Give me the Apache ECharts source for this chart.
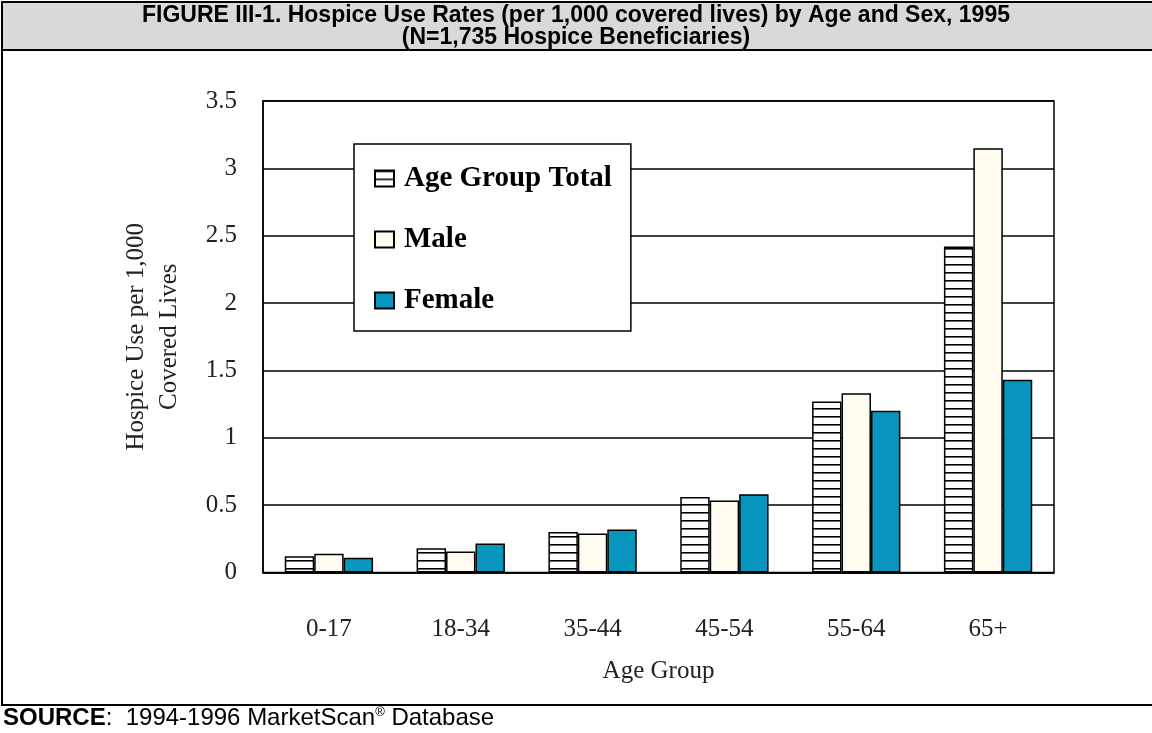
<!DOCTYPE html>
<html><head><meta charset="utf-8">
<script src="https://cdn.jsdelivr.net/npm/echarts@6/dist/echarts.min.js"></script>
<style>html,body{margin:0;padding:0;background:#fff}#c{width:1152px;height:733px}</style>
</head><body><div id="c"></div>
<script>
const categories = ['0-17','18-34','35-44','45-54','55-64','65+'];
const totalVals  = [0.12, 0.18, 0.30, 0.56, 1.27, 2.42];
const maleVals   = [0.14, 0.155, 0.29, 0.535, 1.33, 3.15];
const femaleVals = [0.11, 0.215, 0.32, 0.58, 1.20, 1.43];
const seriesNames = ['Age Group Total','Male','Female'];

const pc = document.createElement('canvas');
pc.width = 8; pc.height = 8;
const g = pc.getContext('2d');
g.fillStyle = '#fff'; g.fillRect(0,0,8,8);
g.fillStyle = '#000'; g.fillRect(0,0,8,1.6);

const serif = 'Liberation Serif';
const chart = echarts.init(document.getElementById('c'));
chart.setOption({
  animation:false,
  backgroundColor:'#fff',
  graphic:[
    {type:'rect', shape:{x:2,y:2,width:1170,height:48}, style:{fill:'#d9d9d9',stroke:'#000',lineWidth:2}, z:-1},
    {type:'rect', shape:{x:2,y:50,width:1170,height:655}, style:{fill:'none',stroke:'#000',lineWidth:2}, z:-1},
    {type:'text', x:576, y:5, style:{text:'FIGURE III-1. Hospice Use Rates (per 1,000 covered lives) by Age and Sex, 1995\n(N=1,735 Hospice Beneficiaries)', font:'bold 23px "Liberation Sans", Arial', fill:'#000', align:'center', verticalAlign:'top', lineHeight:22}},
    {type:'text', x:3, y:706, style:{rich:{b:{font:'bold 24px "Liberation Sans", Arial',fill:'#000'},n:{font:'24px "Liberation Sans", Arial',fill:'#000'},s:{font:'13px "Liberation Sans", Arial',fill:'#000',verticalAlign:'top'}}, text:'{b|SOURCE}{n|:  1994-1996 MarketScan}{s|®}{n| Database}'}}
  ],
  legend:{
    orient:'vertical', left:354, top:144,
    padding:[20,19,16,20], itemGap:32, itemWidth:19, itemHeight:16,
    backgroundColor:'#fff', borderColor:'#000', borderWidth:1.5,
    textStyle:{fontFamily:serif, fontWeight:'bold', fontSize:29, color:'#000', padding:[0,0,0,5]},
    icon:'rect', data:seriesNames
  },
  grid:{left:263, top:101, right:98, bottom:160.5, show:true, borderColor:'#000', borderWidth:1.5},
  xAxis:{
    type:'category', data:categories,
    axisLine:{lineStyle:{color:'#000',width:1.5}},
    axisTick:{inside:true, length:5, lineStyle:{color:'#000',width:1.5}},
    axisLabel:{margin:44, fontFamily:serif, fontSize:25, color:'#222'},
    name:'Age Group', nameLocation:'middle', nameGap:86,
    nameTextStyle:{fontFamily:serif, fontSize:25, color:'#222'}
  },
  yAxis:{
    type:'value', min:0, max:3.5, interval:0.5,
    axisLine:{show:true, lineStyle:{color:'#000',width:1.5}},
    axisTick:{show:false},
    splitLine:{lineStyle:{color:'#000',width:1.5}},
    axisLabel:{margin:26, fontFamily:serif, fontSize:25, color:'#222'},
    name:'Hospice Use per 1,000\nCovered Lives', nameLocation:'middle', nameGap:77, nameMoveOverlap:false,
    nameTextStyle:{fontFamily:serif, fontSize:25, color:'#222', lineHeight:33}
  },
  series:[
    {name:seriesNames[0], type:'bar', data:totalVals, barGap:'0%', barCategoryGap:'33%',
     itemStyle:{color:{image:pc, repeat:'repeat'}, borderColor:'#000', borderWidth:1.5}},
    {name:seriesNames[1], type:'bar', data:maleVals,
     itemStyle:{color:'#FFFBF0', borderColor:'#000', borderWidth:1.5}},
    {name:seriesNames[2], type:'bar', data:femaleVals,
     itemStyle:{color:'#0896BE', borderColor:'#000', borderWidth:1.5}}
  ]
});
</script></body></html>
